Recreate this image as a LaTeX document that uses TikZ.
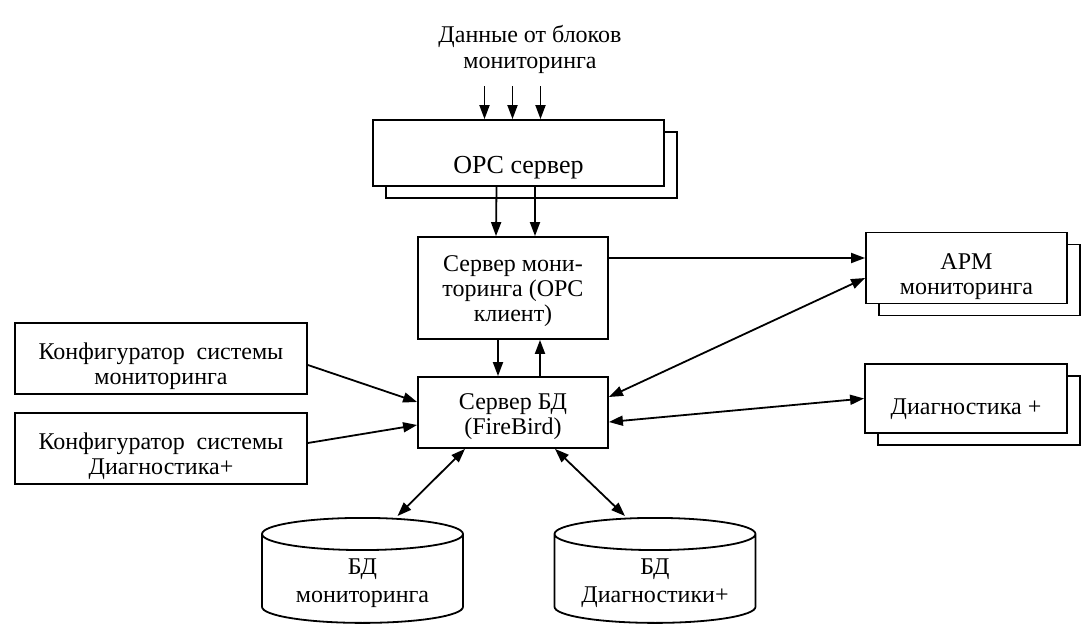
\documentclass[tikz,border=0pt]{standalone}
\usepackage{fontspec}
\setmainfont{Liberation Serif}
\usetikzlibrary{arrows.meta, positioning, shapes.geometric, shadows, calc}
% strut that sets the height of a first text line
\newcommand{\sdrop}[1]{\rule{0pt}{#1}}
\tikzset{
  blk/.style={draw, fill=white, line width=1.8pt, align=center, inner sep=4pt,
              font=\fontsize{24}{25}\selectfont},
  stack/.style={blk, copy shadow={shadow xshift=13pt, shadow yshift=-12pt,
              draw=black, fill=white, line width=1.8pt}},
  store/.style={cylinder, shape border rotate=90, aspect=0.16, draw, fill=white,
              line width=1.8pt, inner sep=4pt, text width=193pt, minimum height=105pt,
              anchor=north},
  txt/.style={align=center, font=\fontsize{24}{28}\selectfont},
  arr/.style={-{Triangle[length=14pt, width=10pt]}, line width=1.8pt},
  darr/.style={{Triangle[length=14pt, width=10pt]}-{Triangle[length=14pt, width=10pt]},
              line width=1.8pt},
}
\begin{document}
\begin{tikzpicture}[x=1pt, y=-1pt]
  \useasboundingbox (0,0) rectangle (1088,631);
  % sources and OPC layer
  \node[txt, font=\fontsize{24}{26}\selectfont] (src) at (530,49)
    {Данные от блоков\\мониторинга};
  \node[stack, font=\fontsize{26}{28}\selectfont, minimum width=291pt, minimum height=66pt]
    (opc) at (518.5,153) {\sdrop{46pt}OPC сервер};
  \node[blk, minimum width=190pt, minimum height=102pt] (mon) at (513,288)
    {\sdrop{23pt}Сервер мони-\\торинга (OPC\\клиент)};
  \node[blk, minimum width=190pt, minimum height=71pt] (db) at (513,412.5)
    {\sdrop{25pt}Сервер БД\\(FireBird)};
  % clients on the right
  \node[stack, minimum width=201pt, minimum height=68pt] (arm) at (966.5,268)
    {\sdrop{33pt}АРМ\\мониторинга};
  \node[stack, minimum width=202pt, minimum height=69pt] (diag) at (966,398.5)
    {\sdrop{37pt}Диагностика +};
  % configurators on the left
  \node[blk, minimum width=292pt, minimum height=71pt] (cfgmon) at (161,358.5)
    {\sdrop{33pt}Конфигуратор\ \ системы\\мониторинга};
  \node[blk, minimum width=292pt, minimum height=71pt] (cfgdiag) at (161,448.5)
    {\sdrop{33pt}Конфигуратор\ \ системы\\Диагностика+};
  % databases
  \node[store] (bdmon) at (362.5,517) {};
  \node[store] (bddiag) at (655,517) {};
  \node[txt] (bdmontx) at ([yshift=-66pt]bdmon.north) {БД\\мониторинга};
  \node[txt] (bddiagtx) at ([yshift=-66pt]bddiag.north) {БД\\Диагностики+};

  \foreach \dx in {-34,-6,22}
    \draw[arr] ([xshift=\dx pt, yshift=33pt]opc.north) -- ([xshift=\dx pt]opc.north);
  \draw[arr] ([xshift=-22pt]opc.south) -- ([xshift=-17pt]mon.north);
  \draw[arr] ([xshift=16.5pt]opc.south) -- ([xshift=22pt]mon.north);
  \draw[arr] ([xshift=-15pt]mon.south) -- ([xshift=-15pt]db.north);
  \draw[arr] ([xshift=27pt]db.north) -- ([xshift=27pt]mon.south);
  \draw[arr] ([yshift=30pt]mon.east) -- ([yshift=30pt]mon.east -| arm.west);
  \draw[darr] ([yshift=15.5pt]db.east) -- ([yshift=-10pt]arm.west);
  \draw[darr] ([yshift=-9.5pt]db.east) -- (diag.west);
  \draw[arr] ([yshift=-6.5pt]cfgmon.east) -- ([yshift=10.5pt]db.west);
  \draw[arr] ([yshift=5.5pt]cfgdiag.east) -- ([yshift=-12.5pt]db.west);
  \draw[darr] ([xshift=-48pt]db.south) -- ([xshift=35pt, yshift=1pt]bdmon.north);
  \draw[darr] ([xshift=42pt]db.south) -- ([xshift=-30pt, yshift=1pt]bddiag.north);
\end{tikzpicture}
\end{document}
